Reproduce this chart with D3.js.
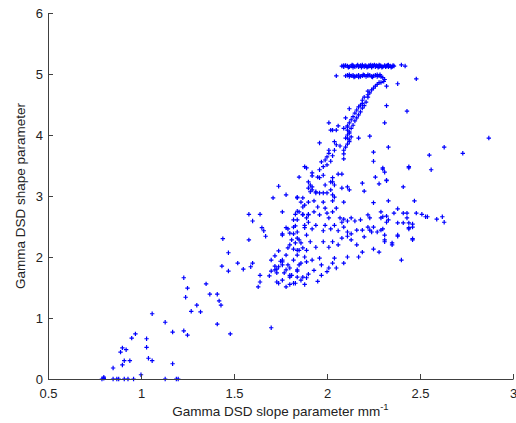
<!DOCTYPE html>
<html>
<head>
<meta charset="utf-8">
<script src="https://cdn.jsdelivr.net/npm/d3@7"></script>
<style>
body { margin: 0; background: #fff; }
text { font-family: "Liberation Sans", Arial, sans-serif; }
</style>
</head>
<body>
<div id="chart"></div>
<script>
// values, [slope, shape]
var xTicks = [0.5, 1, 1.5, 2, 2.5, 3];
var yTicks = [0, 1, 2, 3, 4, 5, 6];

var zeroRow = [[0.79,0],[0.80,0.01],[0.80,0.03],[0.85,0],[0.87,0],[0.88,0],[0.91,0],[0.93,0],[0.96,0],
  [1.00,0.07],[1.13,0],[1.19,0],[1.20,0]];

var lowTail = [[0.85,0.18],[0.90,0.23],[0.89,0.44],[0.90,0.51],[0.92,0.48],[0.91,0.30],[0.94,0.30],
  [1.03,0.52],[1.04,0.34],[1.06,0.30],[1.17,0.25],[0.95,0.67],[0.97,0.74],[1.03,0.66],[1.06,1.07],
  [1.13,0.93],[1.17,0.77],[1.23,0.79],[1.25,0.72],[1.41,0.90],[1.48,0.74],[1.70,0.84],[1.27,1.11],
  [1.32,1.10],[1.30,1.21],[1.42,1.28],[1.43,1.21],[1.37,1.39],[1.41,1.39],[1.35,1.56],[1.24,1.34],
  [1.25,1.49],[1.23,1.66],[1.435,1.85],[1.47,1.77],[1.52,1.90],[1.55,1.80],[1.60,1.90],[1.59,1.84],
  [1.44,2.30],[1.47,2.07],[1.58,2.28],[1.58,2.70],[1.64,2.70],[1.60,2.59],[1.65,2.48],[1.66,2.43],
  [1.67,2.34]];

var lowerCluster = [[1.63,1.51],[1.64,1.70],[1.64,1.59],[1.69,1.69],[1.70,1.77],[1.72,1.79],[1.73,1.74],
  [1.74,1.84],[1.76,1.87],[1.76,1.92],[1.73,1.59],[1.74,1.57],[1.77,1.74],[1.78,1.51],[1.80,1.67],
  [1.80,1.82],[1.82,1.57],[1.83,1.57],[1.84,1.77],[1.84,1.67],[1.81,1.70],[1.72,1.85],[1.70,1.95],
  [1.74,2.10],[1.72,2.02],[1.75,1.93],[1.78,2.03],[1.80,2.20],[1.79,2.15],[1.82,2.13],[1.84,2.11],
  [1.84,2.03],[1.85,2.11],[1.81,2.28],[1.84,2.31],[1.82,2.38],[1.80,2.39],[1.79,2.46],[1.82,2.49],
  [1.84,2.61],[1.89,2.64],[1.88,2.48],[1.90,2.57],[1.86,2.23],[1.89,2.11],[1.88,2.00],[1.86,1.90],
  [1.84,1.79],[1.78,1.79],[1.80,1.70],[1.87,1.67],[1.89,1.66],[1.73,1.80],[1.76,2.38],[1.76,2.74],
  [1.74,3.16],[1.78,3.02],[1.71,2.97],[1.85,3.31],[1.84,2.75],[1.82,2.61],[1.87,2.70],[1.87,2.82],
  [1.86,2.90],[1.88,2.85],[1.90,2.70],[1.90,2.90],[1.84,2.97],[1.87,2.97],
  [1.86,1.62],[1.90,1.72],[1.93,1.78],[1.97,1.70],[2.00,1.76],[2.05,1.82],[1.95,1.60],[1.88,1.55],
  [1.80,1.55],[1.76,1.62]];

var middleBand = [[1.83,2.70],[1.85,2.74],[1.87,2.69],[1.90,2.69],[1.93,2.74],[1.95,2.82],[1.96,2.69],
  [1.99,2.80],[2.00,2.72],[2.01,2.64],[2.03,2.74],[2.05,2.80],[2.07,2.64],[2.09,2.62],[2.11,2.59],
  [2.13,2.64],[2.15,2.59],[2.18,2.61],[2.22,2.69],[2.23,2.64],[2.29,2.64],[2.33,2.61],[2.36,2.72],
  [2.38,2.79],[2.41,2.72],[2.43,2.72],[2.43,2.64],[2.44,2.56],[2.46,2.54],[2.48,2.72],[2.51,2.70],
  [2.53,2.66],[2.54,2.66],[2.59,2.62],[2.29,2.74],[2.25,2.89],[2.33,2.92],[2.62,2.66],[2.63,2.57],
  [2.30,2.66],[2.32,2.67],[2.32,2.57],[2.38,2.56],[2.41,2.56],[2.46,2.49],[2.44,2.46],[2.30,2.46],
  [2.38,2.34],[2.46,2.28],[2.31,2.25],[2.35,2.23],[2.28,2.08],[2.40,1.95],[2.47,2.92],[2.41,3.15],
  [2.32,3.25],[2.30,3.46],[2.31,3.39],[2.44,3.48],[2.56,3.43]];

var lowerBand = [[1.78,2.48],[1.83,2.51],[1.84,2.41],[1.88,2.52],[1.89,2.36],[1.92,2.46],[1.94,2.52],
  [1.98,2.43],[1.99,2.52],[2.02,2.46],[2.04,2.52],[2.06,2.43],[2.08,2.57],[2.09,2.49],[2.11,2.41],
  [2.13,2.38],[2.16,2.44],[2.19,2.44],[2.22,2.49],[2.23,2.44],[2.25,2.49],[2.27,2.41],[2.29,2.44],
  [2.31,2.36],[2.38,2.36],[2.44,2.48],[2.46,2.30],[2.35,2.20],[2.31,2.28],[2.25,2.13],[2.19,2.08],
  [2.17,2.00],[2.11,2.00],[2.09,1.90],[2.04,1.98],[2.03,1.90],[2.01,1.82],[1.97,1.87],[1.96,1.98],
  [1.92,1.95],[1.89,1.92],[1.85,1.87],[1.82,1.95],[1.79,1.87],[1.76,1.95],[1.76,2.36],[1.83,2.23],
  [1.85,2.28],[1.87,2.15],[1.91,2.25],[1.94,2.16],[1.98,2.25],[2.01,2.16],[2.03,2.25],[2.06,2.20],
  [2.08,2.31],[2.11,2.34],[2.13,2.28],[2.16,2.20],[2.20,2.33],[2.24,2.41]];

var upperArm = [[1.96,3.87],[2.04,3.89],[2.10,3.80],[2.12,3.92],[2.11,3.85],[2.17,3.95],[2.23,3.98],
  [2.25,3.72],[2.33,3.80],[2.25,3.57],[2.30,3.44],[2.26,3.31],[2.32,3.26],[2.28,3.20],[2.19,3.21],
  [2.20,3.08],[2.09,2.90],[2.08,3.13],[2.11,3.15],[2.12,3.10],[2.08,3.36],[2.06,3.36],[2.09,3.61],
  [2.09,3.69],[2.09,3.75],[2.07,3.82],[2.02,3.57],[2.03,3.30],[2.03,3.23],[2.04,3.18],[2.02,3.10],
  [2.03,3.02],[2.04,2.98],[2.03,2.92],[1.98,2.90],[1.93,2.92],[1.84,2.98],[1.88,3.48],[1.89,3.46],
  [1.92,3.38],[1.92,3.33],[1.90,3.23],[1.91,3.18],[1.90,3.13],[1.92,3.10],[1.91,3.07],[1.92,3.15],
  [1.94,3.07],[1.94,3.05],[1.96,3.05],[1.98,3.05],[2.00,3.05],[1.95,3.31],[1.98,3.34],[1.96,3.43],
  [1.98,3.48],[1.97,3.56],[1.99,3.59],[2.00,3.64],[2.01,3.70],[2.01,3.75],[2.02,3.23],[1.99,3.18],
  [2.05,3.84],[2.04,3.75],[2.03,3.66],[2.00,3.51],[1.96,3.30],
  [2.48,4.92],[2.43,4.39],[2.87,3.95],[2.63,3.80],[2.73,3.70],[2.55,3.67],[2.44,3.46]];

var diagonal = [[2.26,4.80],[2.25,4.77],[2.24,4.74],[2.22,4.72],[2.23,4.69],[2.22,4.66],[2.20,4.62],
  [2.22,4.62],[2.19,4.57],[2.21,4.54],[2.19,4.52],[2.18,4.49],[2.20,4.48],[2.17,4.46],[2.19,4.44],
  [2.16,4.41],[2.18,4.38],[2.15,4.36],[2.17,4.33],[2.14,4.30],[2.16,4.28],[2.13,4.25],[2.15,4.23],
  [2.12,4.20],[2.14,4.16],[2.11,4.13],[2.13,4.11],[2.11,4.08],[2.12,4.03],[2.11,4.00],[2.11,3.95],
  [2.10,3.95],[2.27,4.83],[2.28,4.86],
  [2.32,4.80],[2.38,4.84],[2.32,4.48],[2.31,4.20],[2.12,4.43],[2.10,4.28],[2.01,4.20],[2.06,4.15],
  [2.02,4.08],[2.03,4.08],[2.05,4.08],[2.09,4.11],[2.11,4.15],[2.12,4.05],[2.13,3.97],[2.12,3.89],
  [2.05,4.97]];

var topBand = [[2.08,5.13],[2.09,5.12],[2.10,5.14],[2.11,5.13],[2.12,5.12],[2.13,5.13],[2.14,5.14],
  [2.15,5.12],[2.16,5.13],[2.17,5.12],[2.18,5.14],[2.19,5.13],[2.20,5.12],[2.205,5.14],[2.21,5.13],
  [2.22,5.12],[2.225,5.14],[2.23,5.13],[2.24,5.12],[2.245,5.14],[2.25,5.13],[2.26,5.12],[2.265,5.14],
  [2.27,5.13],[2.28,5.12],[2.285,5.14],[2.29,5.13],[2.30,5.12],[2.31,5.14],[2.32,5.13],[2.33,5.12],
  [2.34,5.13],[2.35,5.12],[2.36,5.13],[2.09,5.14],[2.14,5.11],[2.19,5.15],[2.24,5.11],[2.28,5.15],
  [2.33,5.15],[2.40,5.15],[2.42,5.13],[2.115,5.11],[2.165,5.15],[2.215,5.11],[2.255,5.15],
  [2.295,5.11],[2.315,5.12],[2.325,5.14],[2.345,5.11],[2.355,5.14],[2.135,5.15],[2.185,5.11],
  [2.235,5.15],[2.275,5.11]];

var secondBand = [[2.10,4.97],[2.11,4.98],[2.12,4.96],[2.13,4.97],[2.14,4.98],[2.15,4.96],[2.16,4.97],
  [2.17,4.98],[2.18,4.96],[2.19,4.97],[2.20,4.98],[2.21,4.96],[2.22,4.97],[2.23,4.98],[2.24,4.96],
  [2.25,4.97],[2.26,4.98],[2.27,4.96],[2.28,4.97],[2.29,4.96],[2.30,4.94],[2.31,4.91],[2.305,4.88],
  [2.29,4.86],[2.12,4.99],[2.17,4.95],[2.22,4.99],[2.27,4.99],[2.145,4.95],[2.195,4.99],[2.245,4.95],
  [2.285,4.99]];

var points = [].concat(zeroRow, lowTail, lowerCluster, middleBand, lowerBand,
  upperArm, diagonal, topBand, secondBand);

var margin = {left: 48, right: 3, top: 13, bottom: 44};
var width = 516 - margin.left - margin.right;
var height = 423 - margin.top - margin.bottom;

var svg = d3.select("#chart")
  .append("svg")
  .attr("width", 516)
  .attr("height", 423)
  .append("g")
  .attr("transform", "translate(" + margin.left + "," + margin.top + ")");

var xScale = d3.scaleLinear().domain([0.5, 3]).range([0, width]);
var yScale = d3.scaleLinear().domain([0, 6]).range([height, 0]);

// markers first, axes drawn over them (no pixel snapping -> soft look like the original)
svg.selectAll(".pt")
  .data(points)
  .enter().append("path")
  .attr("class", "pt")
  .attr("transform", function(d) {
    return "translate(" + xScale(d[0]) + "," + yScale(d[1]) + ")";
  })
  .attr("d", "M-2.2,0H2.2M0,-2.2V2.2")
  .attr("stroke", "#0000ff")
  .attr("stroke-width", 1.2)
  .attr("fill", "none");

var xAxis = d3.axisBottom(xScale).tickValues(xTicks).tickSizeInner(-5).tickSizeOuter(0)
  .tickPadding(10).tickFormat(d3.format("~g"));
var yAxis = d3.axisLeft(yScale).tickValues(yTicks).tickSizeInner(-5).tickSizeOuter(0)
  .tickPadding(5).tickFormat(d3.format("~g"));

var gX = svg.append("g")
  .attr("transform", "translate(0," + height + ")")
  .call(xAxis);
var gY = svg.append("g").call(yAxis);

[gX, gY].forEach(function(g) {
  g.select(".domain").attr("stroke", "#404040");
  g.selectAll(".tick line").attr("stroke", "#404040");
  g.selectAll(".tick text")
    .attr("fill", "#222")
    .style("font-size", "13px")
    .style("font-family", "'Liberation Sans', Arial, sans-serif");
});

// x label with superscript
var xLab = svg.append("text")
  .attr("x", width / 2)
  .attr("y", height + 37)
  .attr("text-anchor", "middle")
  .attr("fill", "#222")
  .style("font-size", "13.5px");
xLab.append("tspan").text("Gamma DSD slope parameter mm");
xLab.append("tspan").attr("dy", -6).style("font-size", "9.5px").text("-1");

svg.append("text")
  .attr("transform", "rotate(-90)")
  .attr("x", -height / 2)
  .attr("y", -23)
  .attr("text-anchor", "middle")
  .attr("fill", "#222")
  .style("font-size", "13.5px")
  .text("Gamma DSD shape parameter");
</script>
</body>
</html>
